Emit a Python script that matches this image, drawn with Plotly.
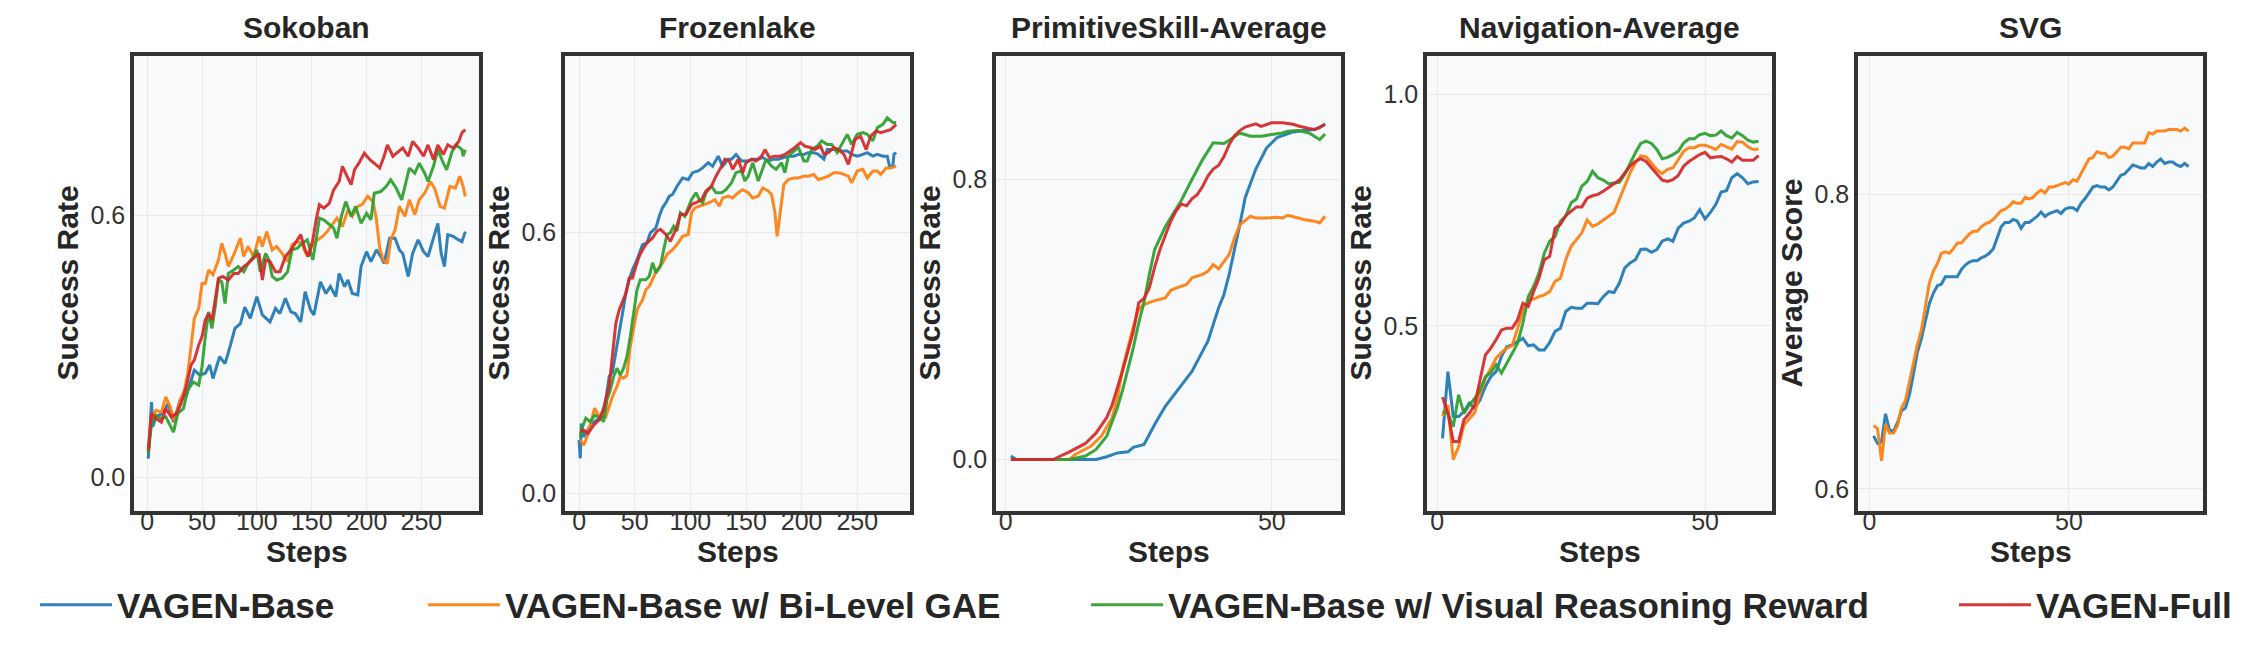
import plotly.graph_objects as go

# ---------------- data ----------------
series_names = ["VAGEN-Base", "VAGEN-Base w/ Bi-Level GAE",
                "VAGEN-Base w/ Visual Reasoning Reward", "VAGEN-Full"]
colors = ["#1f77b4", "#ff7f0e", "#2ca02c", "#d62728"]

panel_titles = ["Sokoban", "Frozenlake", "PrimitiveSkill-Average", "Navigation-Average", "SVG"]
y_titles = ["Success Rate", "Success Rate", "Success Rate", "Success Rate", "Average Score"]

# Sokoban
sok_base_x = [1, 4, 5, 8, 14, 19, 24, 30, 36, 43, 48, 53, 57, 60, 66, 71, 76, 80, 85, 89,
              94, 100, 105, 109, 112, 117, 121, 126, 131, 135, 140, 144, 149, 152, 158, 163, 167, 172, 175, 180,
              183, 187, 192, 195, 200, 204, 209, 213, 216, 221, 226, 230, 233, 238, 242, 247, 252, 256, 261, 265,
              268, 271, 274, 279, 284, 287, 290]
sok_base_y = [0.042, 0.172, 0.115, 0.138, 0.146, 0.169, 0.126, 0.176, 0.19, 0.245, 0.234, 0.238, 0.257, 0.226, 0.276, 0.26, 0.303, 0.341, 0.352, 0.39,
              0.364, 0.414, 0.372, 0.364, 0.356, 0.387, 0.375, 0.41, 0.379, 0.375, 0.356, 0.425, 0.383, 0.372, 0.448, 0.421, 0.437, 0.414, 0.467, 0.437,
              0.452, 0.421, 0.418, 0.483, 0.517, 0.494, 0.521, 0.506, 0.49, 0.548, 0.548, 0.521, 0.513, 0.46, 0.513, 0.544, 0.517, 0.506, 0.548, 0.582,
              0.513, 0.483, 0.556, 0.552, 0.544, 0.54, 0.563]
sok_gae_x = [1, 4, 8, 13, 17, 21, 25, 30, 34, 37, 40, 43, 47, 50, 53, 56, 60, 65, 68, 71,
             74, 79, 85, 88, 92, 97, 102, 105, 109, 114, 118, 123, 128, 132, 137, 141, 146, 151, 155, 160,
             164, 169, 173, 178, 183, 187, 192, 196, 201, 206, 209, 212, 215, 219, 222, 226, 230, 235, 239, 244,
             248, 253, 258, 262, 267, 271, 276, 281, 285, 288, 290]
sok_gae_y = [0.057, 0.138, 0.153, 0.149, 0.184, 0.161, 0.126, 0.176, 0.199, 0.238, 0.299, 0.364, 0.387, 0.444, 0.444, 0.475, 0.464, 0.498, 0.536, 0.513,
             0.483, 0.51, 0.548, 0.506, 0.529, 0.506, 0.552, 0.529, 0.563, 0.521, 0.529, 0.513, 0.494, 0.533, 0.54, 0.536, 0.506, 0.533, 0.544, 0.552,
             0.563, 0.579, 0.594, 0.575, 0.613, 0.598, 0.621, 0.625, 0.644, 0.632, 0.59, 0.525, 0.498, 0.49, 0.544, 0.567, 0.621, 0.598, 0.636, 0.602,
             0.636, 0.651, 0.678, 0.663, 0.621, 0.617, 0.667, 0.663, 0.69, 0.667, 0.644]
sok_vis_x = [1, 4, 8, 13, 17, 24, 28, 33, 37, 42, 47, 50, 53, 56, 59, 62, 65, 68, 71, 74,
             79, 83, 88, 92, 97, 100, 103, 108, 111, 114, 118, 123, 128, 132, 137, 141, 146, 151, 154, 157,
             161, 166, 170, 173, 177, 181, 186, 190, 195, 200, 204, 207, 213, 218, 222, 227, 232, 235, 239, 244,
             248, 253, 256, 261, 265, 270, 273, 278, 282, 287, 288, 290]
sok_vis_y = [0.054, 0.123, 0.142, 0.134, 0.138, 0.103, 0.146, 0.157, 0.199, 0.218, 0.211, 0.253, 0.322, 0.379, 0.341, 0.39, 0.452, 0.448, 0.398, 0.467,
             0.475, 0.483, 0.471, 0.49, 0.506, 0.521, 0.471, 0.513, 0.498, 0.46, 0.452, 0.456, 0.471, 0.521, 0.525, 0.536, 0.544, 0.498, 0.544, 0.594,
             0.59, 0.579, 0.571, 0.548, 0.598, 0.632, 0.598, 0.621, 0.582, 0.605, 0.59, 0.651, 0.655, 0.667, 0.682, 0.663, 0.636, 0.667, 0.709, 0.697,
             0.72, 0.697, 0.678, 0.713, 0.751, 0.72, 0.705, 0.747, 0.762, 0.751, 0.736, 0.751]
sok_full_x = [1, 4, 8, 13, 17, 22, 27, 31, 36, 40, 43, 47, 50, 53, 56, 59, 62, 65, 69, 74,
              79, 83, 88, 92, 97, 102, 105, 108, 112, 117, 121, 126, 131, 135, 140, 144, 147, 151, 154, 157,
              161, 166, 170, 175, 178, 183, 186, 189, 193, 198, 203, 207, 212, 216, 219, 224, 229, 233, 238, 242,
              247, 252, 256, 261, 265, 270, 274, 279, 284, 287, 290]
sok_full_y = [0.061, 0.146, 0.134, 0.126, 0.157, 0.138, 0.146, 0.169, 0.211, 0.257, 0.268, 0.303, 0.322, 0.36, 0.375, 0.36, 0.406, 0.456, 0.46, 0.452,
              0.467, 0.467, 0.483, 0.49, 0.502, 0.513, 0.452, 0.498, 0.494, 0.471, 0.471, 0.506, 0.521, 0.536, 0.556, 0.521, 0.506, 0.544, 0.59, 0.625,
              0.617, 0.628, 0.659, 0.678, 0.713, 0.686, 0.671, 0.705, 0.72, 0.743, 0.728, 0.72, 0.709, 0.736, 0.762, 0.736, 0.747, 0.755, 0.736, 0.77,
              0.755, 0.736, 0.762, 0.728, 0.762, 0.74, 0.762, 0.755, 0.77, 0.79, 0.797]

# Frozenlake
fl_base_x = [0, 1, 2, 4, 7, 11, 16, 21, 24, 27, 30, 33, 36, 39, 42, 45, 48, 52, 57, 61,
             64, 69, 72, 75, 78, 81, 84, 88, 93, 98, 102, 107, 111, 116, 120, 125, 129, 134, 137, 141,
             146, 152, 156, 161, 165, 170, 175, 179, 184, 188, 193, 197, 202, 206, 211, 215, 220, 223, 227, 232,
             236, 241, 245, 250, 255, 259, 264, 268, 273, 277, 279, 282, 283, 285]
fl_base_y = [0.123, 0.081, 0.161, 0.13, 0.142, 0.161, 0.169, 0.177, 0.215, 0.269, 0.28, 0.322, 0.368, 0.414, 0.46, 0.491, 0.514, 0.537, 0.572, 0.576,
             0.599, 0.61, 0.637, 0.657, 0.668, 0.683, 0.687, 0.706, 0.725, 0.721, 0.737, 0.741, 0.748, 0.76, 0.752, 0.775, 0.752, 0.768, 0.768, 0.779,
             0.764, 0.764, 0.768, 0.768, 0.772, 0.764, 0.768, 0.768, 0.772, 0.775, 0.775, 0.779, 0.779, 0.783, 0.783, 0.779, 0.768, 0.79, 0.79, 0.79,
             0.787, 0.787, 0.779, 0.775, 0.779, 0.783, 0.775, 0.779, 0.775, 0.775, 0.752, 0.752, 0.779, 0.783]
fl_gae_x = [1, 4, 7, 11, 14, 18, 21, 24, 27, 30, 34, 37, 40, 43, 46, 49, 52, 57, 60, 63,
            66, 70, 75, 79, 84, 88, 93, 98, 101, 104, 108, 113, 117, 122, 126, 129, 134, 138, 143, 147,
            152, 156, 161, 165, 170, 173, 176, 178, 180, 184, 188, 193, 197, 202, 206, 211, 215, 220, 224, 229,
            233, 238, 242, 245, 250, 255, 259, 264, 268, 271, 276, 280, 285]
fl_gae_y = [0.123, 0.111, 0.13, 0.169, 0.196, 0.177, 0.184, 0.177, 0.2, 0.223, 0.246, 0.269, 0.265, 0.272, 0.338, 0.384, 0.422, 0.445, 0.468, 0.476,
            0.491, 0.514, 0.53, 0.549, 0.56, 0.572, 0.591, 0.595, 0.645, 0.656, 0.66, 0.664, 0.668, 0.675, 0.66, 0.679, 0.683, 0.679, 0.691, 0.698,
            0.691, 0.679, 0.683, 0.702, 0.695, 0.687, 0.645, 0.591, 0.629, 0.71, 0.721, 0.725, 0.725, 0.729, 0.729, 0.733, 0.721, 0.725, 0.729, 0.737,
            0.737, 0.733, 0.729, 0.714, 0.741, 0.745, 0.725, 0.741, 0.741, 0.733, 0.748, 0.748, 0.752]
fl_vis_x = [1, 3, 6, 10, 14, 19, 22, 25, 28, 31, 34, 37, 40, 43, 46, 49, 52, 55, 60, 63,
            66, 69, 73, 76, 79, 82, 85, 88, 91, 95, 98, 101, 105, 108, 111, 114, 119, 123, 128, 132,
            137, 141, 146, 149, 152, 156, 161, 165, 168, 173, 177, 182, 185, 188, 193, 197, 202, 205, 209, 214,
            218, 223, 227, 232, 236, 241, 245, 250, 255, 259, 264, 268, 273, 277, 282, 285]
fl_vis_y = [0.13, 0.153, 0.173, 0.165, 0.18, 0.173, 0.165, 0.215, 0.238, 0.269, 0.288, 0.272, 0.288, 0.315, 0.361, 0.414, 0.468, 0.491, 0.491, 0.499,
            0.53, 0.507, 0.522, 0.56, 0.595, 0.599, 0.614, 0.603, 0.645, 0.637, 0.656, 0.675, 0.691, 0.675, 0.668, 0.691, 0.706, 0.691, 0.691, 0.698,
            0.714, 0.737, 0.741, 0.718, 0.729, 0.76, 0.718, 0.748, 0.768, 0.752, 0.745, 0.76, 0.737, 0.775, 0.787, 0.795, 0.764, 0.764, 0.79, 0.798,
            0.81, 0.802, 0.802, 0.783, 0.802, 0.825, 0.802, 0.825, 0.829, 0.825, 0.81, 0.84, 0.848, 0.863, 0.852, 0.852]
fl_full_x = [1, 4, 8, 13, 18, 22, 27, 30, 33, 36, 39, 42, 45, 48, 51, 54, 57, 61, 66, 70,
             73, 78, 82, 87, 91, 96, 101, 105, 110, 114, 119, 123, 128, 131, 135, 138, 143, 147, 150, 155,
             159, 164, 167, 171, 176, 181, 185, 190, 194, 199, 203, 208, 212, 217, 220, 224, 229, 233, 238, 242,
             245, 248, 253, 258, 262, 267, 271, 276, 280, 285]
fl_full_y = [0.142, 0.146, 0.138, 0.157, 0.169, 0.196, 0.246, 0.315, 0.391, 0.422, 0.441, 0.46, 0.495, 0.495, 0.522, 0.545, 0.56, 0.576, 0.587, 0.603,
             0.607, 0.595, 0.579, 0.607, 0.641, 0.641, 0.664, 0.668, 0.675, 0.695, 0.706, 0.729, 0.752, 0.768, 0.764, 0.745, 0.768, 0.737, 0.76, 0.768,
             0.764, 0.775, 0.79, 0.772, 0.775, 0.775, 0.779, 0.787, 0.795, 0.806, 0.798, 0.795, 0.79, 0.798, 0.779, 0.783, 0.795, 0.79, 0.779, 0.756,
             0.783, 0.813, 0.821, 0.79, 0.821, 0.833, 0.829, 0.833, 0.836, 0.848]

# PrimitiveSkill-Average
ps_base_x = [1, 2, 6, 12, 17, 19, 21, 23, 24, 26, 28, 30, 33, 35, 38, 40, 41, 42, 44, 45, 47, 48, 49, 51, 53, 54, 56, 58, 60]
ps_base_y = [0.01, 0.0, 0.0, 0.0, 0.0, 0.008, 0.019, 0.022, 0.035, 0.043, 0.1, 0.152, 0.214, 0.252, 0.338, 0.433, 0.471, 0.53, 0.671, 0.748,
             0.83, 0.862, 0.89, 0.92, 0.93, 0.936, 0.94, 0.943, 0.957]
ps_gae_x = [1, 5, 12, 13, 16, 18, 20, 21, 22, 24, 25, 26, 28, 30, 31, 32, 34, 35, 37, 38, 39, 40, 42, 43, 44, 46, 47, 49, 51, 52, 53, 55, 56, 58, 59, 60]
ps_gae_y = [0.0, 0.0, 0.0, 0.014, 0.038, 0.067, 0.119, 0.176, 0.262, 0.38, 0.43, 0.443, 0.454, 0.462, 0.483, 0.49, 0.5, 0.519, 0.529, 0.538,
            0.557, 0.545, 0.586, 0.633, 0.671, 0.695, 0.69, 0.69, 0.692, 0.69, 0.698, 0.69, 0.686, 0.681, 0.676, 0.695]
ps_vis_x = [1, 5, 12, 15, 17, 19, 21, 22, 23, 24, 25, 26, 27, 28, 30, 31, 33, 35, 37, 39, 40, 41, 42, 44, 46, 48, 50, 52, 53, 55, 57, 59, 60]
ps_vis_y = [0.0, 0.0, 0.0, 0.01, 0.029, 0.067, 0.148, 0.2, 0.26, 0.32, 0.39, 0.45, 0.529, 0.6, 0.665, 0.69, 0.74, 0.8, 0.857, 0.905,
            0.903, 0.903, 0.912, 0.933, 0.924, 0.924, 0.929, 0.933, 0.938, 0.94, 0.933, 0.914, 0.93]
ps_full_x = [1, 5, 9, 10, 12, 15, 17, 19, 20, 22, 23, 24, 25, 26, 27, 28, 29, 30, 31, 32, 33, 34, 35, 36, 37, 38, 39, 40, 41, 42, 43, 44, 45,
             47, 48, 50, 52, 54, 55, 57, 58, 59, 60]
ps_full_y = [0.0, 0.0, 0.0, 0.008, 0.022, 0.046, 0.076, 0.12, 0.155, 0.255, 0.31, 0.366, 0.448, 0.46, 0.49, 0.55, 0.6, 0.64, 0.68, 0.71,
             0.73, 0.725, 0.745, 0.757, 0.78, 0.81, 0.83, 0.84, 0.865, 0.9, 0.925, 0.94, 0.95, 0.959, 0.952, 0.962, 0.962, 0.958, 0.953, 0.946,
             0.943, 0.948, 0.959]

# Navigation-Average (one value per step, steps 1..60)
nav_steps = list(range(1, 61))
nav_base = [0.257, 0.401, 0.304, 0.304, 0.315, 0.333, 0.322, 0.34, 0.369, 0.39, 0.401, 0.434, 0.455, 0.459, 0.466, 0.473, 0.457, 0.459, 0.448, 0.448,
            0.464, 0.488, 0.495, 0.531, 0.54, 0.538, 0.538, 0.549, 0.549, 0.548, 0.563, 0.574, 0.572, 0.592, 0.625, 0.636, 0.643, 0.665, 0.666, 0.659,
            0.665, 0.683, 0.688, 0.683, 0.711, 0.722, 0.726, 0.733, 0.751, 0.731, 0.745, 0.762, 0.789, 0.792, 0.82, 0.829, 0.82, 0.807, 0.811, 0.812]
nav_gae = [0.305, 0.329, 0.211, 0.239, 0.286, 0.3, 0.312, 0.354, 0.387, 0.408, 0.43, 0.442, 0.452, 0.457, 0.495, 0.531, 0.556, 0.558, 0.563, 0.567,
           0.574, 0.596, 0.603, 0.643, 0.672, 0.686, 0.701, 0.729, 0.715, 0.72, 0.729, 0.738, 0.745, 0.773, 0.802, 0.83, 0.852, 0.867, 0.865, 0.852,
           0.838, 0.829, 0.838, 0.841, 0.859, 0.877, 0.885, 0.885, 0.89, 0.89, 0.886, 0.881, 0.892, 0.887, 0.882, 0.898, 0.897, 0.887, 0.881, 0.882]
nav_vis = [0.315, 0.311, 0.282, 0.351, 0.311, 0.329, 0.343, 0.361, 0.39, 0.399, 0.416, 0.398, 0.419, 0.441, 0.462, 0.506, 0.563, 0.585, 0.614, 0.657,
           0.683, 0.693, 0.726, 0.737, 0.766, 0.774, 0.802, 0.812, 0.834, 0.82, 0.815, 0.807, 0.809, 0.81, 0.827, 0.852, 0.874, 0.894, 0.899, 0.894,
           0.881, 0.861, 0.864, 0.87, 0.877, 0.895, 0.904, 0.904, 0.913, 0.916, 0.911, 0.912, 0.921, 0.911, 0.906, 0.918, 0.911, 0.901, 0.897, 0.899]
nav_full = [0.346, 0.311, 0.25, 0.25, 0.297, 0.311, 0.329, 0.38, 0.437, 0.452, 0.47, 0.491, 0.495, 0.495, 0.513, 0.549, 0.542, 0.574, 0.603, 0.643,
            0.65, 0.711, 0.719, 0.738, 0.747, 0.757, 0.757, 0.776, 0.781, 0.784, 0.791, 0.8, 0.807, 0.815, 0.83, 0.845, 0.855, 0.861, 0.855, 0.841,
            0.827, 0.815, 0.812, 0.816, 0.825, 0.845, 0.855, 0.863, 0.87, 0.875, 0.863, 0.865, 0.866, 0.861, 0.854, 0.866, 0.858, 0.858, 0.858, 0.868]

# SVG (one value per step, steps 1..80)
svg_steps = list(range(1, 81))
svg_base = [0.636, 0.631, 0.632, 0.651, 0.64, 0.639, 0.645, 0.653, 0.655, 0.664, 0.678, 0.693, 0.702, 0.713, 0.726, 0.733, 0.738, 0.739, 0.744, 0.744,
            0.744, 0.744, 0.749, 0.752, 0.754, 0.755, 0.755, 0.757, 0.758, 0.76, 0.763, 0.77, 0.778, 0.781, 0.781, 0.783, 0.782, 0.777, 0.781, 0.781,
            0.783, 0.785, 0.788, 0.785, 0.787, 0.788, 0.789, 0.787, 0.79, 0.791, 0.791, 0.789, 0.794, 0.797, 0.801, 0.805, 0.806, 0.805, 0.805, 0.803,
            0.805, 0.809, 0.813, 0.814, 0.817, 0.82, 0.819, 0.818, 0.818, 0.821, 0.819, 0.822, 0.824, 0.821, 0.822, 0.822, 0.82, 0.819, 0.821, 0.819]
svg_gae = [0.643, 0.641, 0.619, 0.644, 0.638, 0.638, 0.643, 0.655, 0.66, 0.673, 0.685, 0.698, 0.708, 0.724, 0.74, 0.748, 0.753, 0.76, 0.761, 0.76,
           0.763, 0.767, 0.767, 0.77, 0.773, 0.775, 0.775, 0.778, 0.78, 0.781, 0.783, 0.786, 0.789, 0.79, 0.792, 0.795, 0.794, 0.794, 0.798, 0.797,
           0.798, 0.801, 0.803, 0.801, 0.805, 0.805, 0.806, 0.807, 0.808, 0.807, 0.81, 0.809, 0.814, 0.819, 0.824, 0.825, 0.829, 0.828, 0.828, 0.825,
           0.826, 0.829, 0.832, 0.832, 0.831, 0.835, 0.835, 0.835, 0.835, 0.842, 0.841, 0.843, 0.843, 0.843, 0.844, 0.844, 0.844, 0.843, 0.845, 0.843]

panels = [
    [(sok_base_x, sok_base_y), (sok_gae_x, sok_gae_y), (sok_vis_x, sok_vis_y), (sok_full_x, sok_full_y)],
    [(fl_base_x, fl_base_y), (fl_gae_x, fl_gae_y), (fl_vis_x, fl_vis_y), (fl_full_x, fl_full_y)],
    [(ps_base_x, ps_base_y), (ps_gae_x, ps_gae_y), (ps_vis_x, ps_vis_y), (ps_full_x, ps_full_y)],
    [(nav_steps, nav_base), (nav_steps, nav_gae), (nav_steps, nav_vis), (nav_steps, nav_full)],
    [(svg_steps, svg_base), (svg_steps, svg_gae), None, None],
]
for p in panels:
    for s in p:
        if s is not None:
            assert len(s[0]) == len(s[1])

x_ranges = [[-12, 302.5], [-12.7, 297.4], [-1.8, 63], [-1.9, 62.5], [-2.9, 83.6]]
y_ranges = [[-0.078, 0.966], [-0.04, 1.005], [-0.147, 1.153], [0.1, 1.083], [0.585, 0.894]]
x_ticks = [[0, 50, 100, 150, 200, 250], [0, 50, 100, 150, 200, 250], [0, 50], [0, 50], [0, 50]]
y_ticks = [[0.0, 0.6], [0.0, 0.6], [0.0, 0.8], [0.5, 1.0], [0.6, 0.8]]

# ---------------- layout geometry (pixels) ----------------
W, H = 2252, 648
panel_left = [126, 557, 988, 1419, 1850]
panel_w = 345
panel_top, panel_bottom = 48, 503
font = "Liberation Sans, Arial, sans-serif"

fig = go.Figure()
legend_ids = ["legend", "legend2", "legend3", "legend4"]

for i, series in enumerate(panels):
    ax = "" if i == 0 else str(i + 1)
    for j, s in enumerate(series):
        if s is None:
            continue
        fig.add_trace(go.Scatter(
            x=s[0], y=s[1], mode="lines", name=series_names[j],
            line=dict(color=colors[j], width=3), opacity=0.92,
            xaxis="x" + ax, yaxis="y" + ax,
            legend=legend_ids[j], showlegend=(i == 0),
        ))

layout = dict(
    width=W, height=H, margin=dict(l=0, r=0, t=0, b=0),
    paper_bgcolor="white", plot_bgcolor="#f7f9fb",
    font=dict(family=font, color="#333333"),
    showlegend=True,
)
axis_common = dict(showgrid=True, gridcolor="#e6e8ea", gridwidth=1, zeroline=False,
                   showline=True, linecolor="#333333", linewidth=3.5, mirror=True,
                   ticks="", tickfont=dict(size=25, color="#333333"))
annotations = []
for i in range(5):
    ax = "" if i == 0 else str(i + 1)
    x0 = panel_left[i] / W
    x1 = (panel_left[i] + panel_w) / W
    layout["xaxis" + ax] = dict(axis_common, domain=[x0, x1], range=x_ranges[i],
                                tickmode="array", tickvals=x_ticks[i],
                                ticklabelstandoff=-15, anchor="y" + ax)
    layout["yaxis" + ax] = dict(axis_common, domain=[1 - panel_bottom / H, 1 - panel_top / H],
                                range=y_ranges[i], tickmode="array", tickvals=y_ticks[i],
                                tickformat=".1f", anchor="x" + ax)
    cx = (panel_left[i] + panel_w / 2) / W
    annotations.append(dict(text="<b>" + panel_titles[i] + "</b>", x=cx, y=1 - 1 / H,
                            xref="paper", yref="paper", showarrow=False,
                            font=dict(size=30, color="#262626", family=font),
                            xanchor="center", yanchor="top"))
    annotations.append(dict(text="<b>Steps</b>", x=cx, y=1 - 543 / H,
                            xref="paper", yref="paper", showarrow=False,
                            font=dict(size=30, color="#262626", family=font),
                            xanchor="center", yanchor="middle"))
    annotations.append(dict(text="<b>" + y_titles[i] + "</b>", x=(panel_left[i] - 67) / W,
                            y=1 - (panel_top + panel_bottom) / 2 / H,
                            xref="paper", yref="paper", showarrow=False, textangle=-90,
                            font=dict(size=30, color="#262626", family=font),
                            xanchor="center", yanchor="middle"))
layout["annotations"] = annotations

legend_x = [27, 415, 1078, 1946]
for j, lid in enumerate(legend_ids):
    layout[lid] = dict(x=legend_x[j] / W, y=1 - 597 / H, xanchor="left", yanchor="middle",
                       orientation="h", bgcolor="rgba(0,0,0,0)", itemwidth=72,
                       font=dict(size=35, color="#262626", family=font, weight="bold"),
                       borderwidth=0)

fig.update_layout(**layout)
fig.write_html("out.html")
